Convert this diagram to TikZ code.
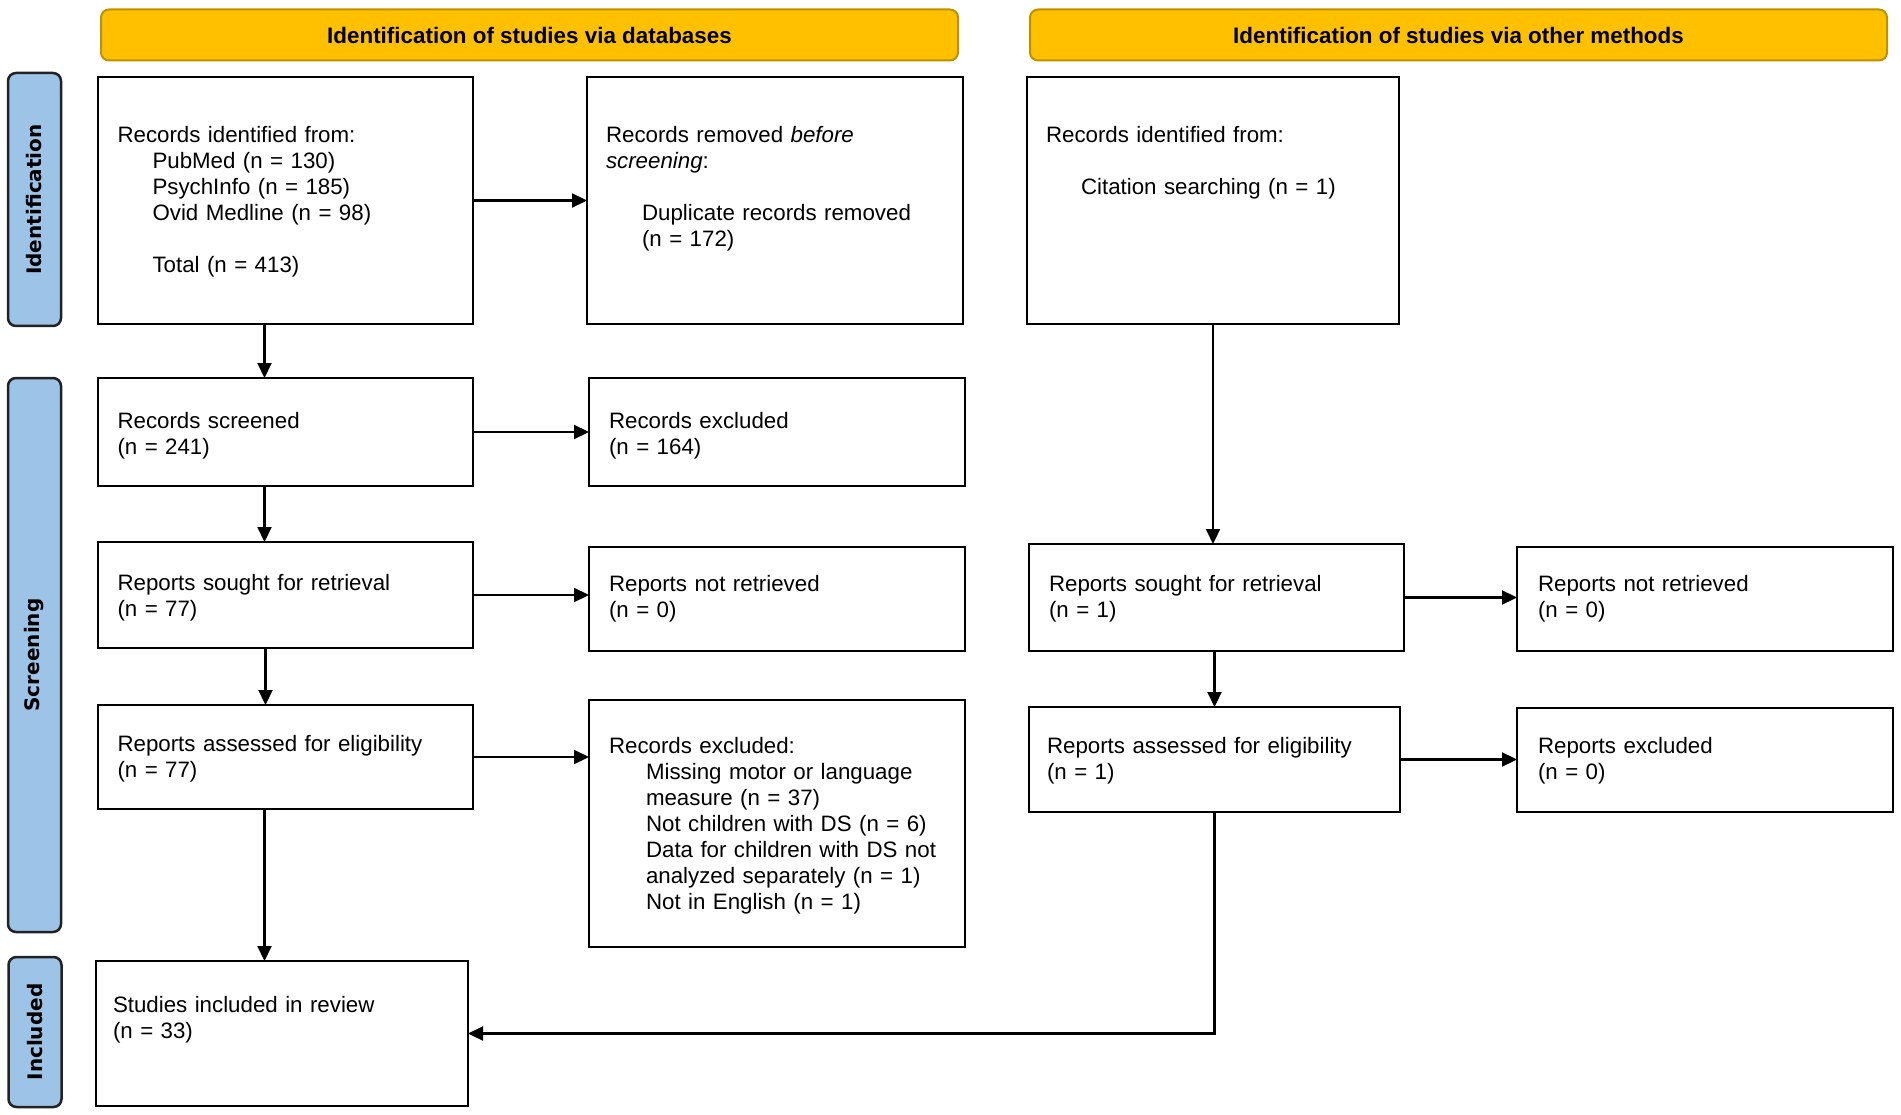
\documentclass[tikz,border=0pt]{standalone}
\usepackage{fontspec}
\setmainfont{Liberation Sans}
\newfontfamily\labfont{DejaVu Sans}
\usetikzlibrary{arrows.meta}
\definecolor{gold}{HTML}{FFC000}
\definecolor{goldedge}{HTML}{BF9000}
\definecolor{sideblue}{HTML}{9DC3E6}
\definecolor{sideedge}{HTML}{222222}
\newcommand\mkbox[5]{\node[box, minimum width={#4-#2}, minimum height={#5-#3}] (#1) at ({(#2+#4)/2},{(#3+#5)/2}) {};}
\begin{document}
\begin{tikzpicture}[x=1pt,y=-1pt,
  box/.style={draw=black, line width=2.5pt, inner sep=0pt, outer sep=0pt, fill=white},
  hdr/.style={draw=goldedge, fill=gold, line width=2pt, rounded corners=8pt, inner sep=0pt,
    font=\fontsize{22.4}{26}\selectfont\bfseries},
  side/.style={draw=sideedge, fill=sideblue, line width=2.5pt, rounded corners=8pt, inner sep=0pt,
    rotate=90, font=\labfont\fontsize{20}{22}\selectfont\bfseries},
  txt/.style={anchor=base west, inner sep=0pt, outer sep=0pt, text width=420pt, align=left,
    font=\fontsize{22.3}{26}\selectfont},
  arr/.style={line width=2.2pt, -{Triangle[length=15pt,width=14pt]}}]
\useasboundingbox (0,0) rectangle (1901,1115);
% headers
\node[hdr, minimum width=857, minimum height=51] (h1) at (529.5,35) {Identification of studies via databases};
\node[hdr, minimum width=857, minimum height=51] (h2) at (1458.5,35) {Identification of studies via other methods};
% side labels
\node[side, minimum width=253, minimum height=53] (s1) at (34.5,199.5) {Identification};
\node[side, minimum width=554, minimum height=53] (s2) at (34.5,655) {Screening};
\node[side, minimum width=150, minimum height=53] (s3) at (35,1032) {Included};
% boxes
\mkbox{A}{98}{77}{473}{324}
\mkbox{R}{587}{77}{963}{324}
\mkbox{B}{98}{378}{473}{486}
\mkbox{X}{589}{378}{965}{486}
\mkbox{C}{98}{542}{473}{648}
\mkbox{N}{589}{547}{965}{651}
\mkbox{D}{98}{705}{473}{809}
\mkbox{Y}{589}{700}{965}{947}
\mkbox{E}{96}{961}{468}{1106}
\mkbox{O}{1027}{77}{1399}{324}
\mkbox{P}{1029}{544}{1404}{651}
\mkbox{Q}{1517}{547}{1893}{651}
\mkbox{S}{1029}{707}{1400}{812}
\mkbox{T}{1517}{708}{1893}{812}
% texts
\node[txt] (tA) at (117.5,143) {Records identified from:\\
\hspace*{35pt}PubMed (n = 130)\\
\hspace*{35pt}PsychInfo (n = 185)\\
\hspace*{35pt}Ovid Medline (n = 98)\\[26pt]
\hspace*{35pt}Total (n = 413)};
\node[txt] (tR) at (606,143) {Records removed \textit{before}\\
\textit{screening}:\\[26pt]
\hspace*{36pt}Duplicate records removed\\
\hspace*{36pt}(n = 172)};
\node[txt] (tO) at (1046,143) {Records identified from:\\[26pt]
\hspace*{35pt}Citation searching (n = 1)};
\node[txt] (tB) at (117.5,428) {Records screened\\(n = 241)};
\node[txt] (tX) at (609,428) {Records excluded\\(n = 164)};
\node[txt] (tC) at (117.5,590) {Reports sought for retrieval\\(n = 77)};
\node[txt] (tN) at (609,591) {Reports not retrieved\\(n = 0)};
\node[txt] (tD) at (117.5,751) {Reports assessed for eligibility\\(n = 77)};
\node[txt] (tY) at (609,753) {Records excluded:\\
\hspace*{37pt}Missing motor or language\\
\hspace*{37pt}measure (n = 37)\\
\hspace*{37pt}Not children with DS (n = 6)\\
\hspace*{37pt}Data for children with DS not\\
\hspace*{37pt}analyzed separately (n = 1)\\
\hspace*{37pt}Not in English (n = 1)};
\node[txt] (tE) at (113,1012) {Studies included in review\\(n = 33)};
\node[txt] (tP) at (1049,591) {Reports sought for retrieval\\(n = 1)};
\node[txt] (tQ) at (1538,591) {Reports not retrieved\\(n = 0)};
\node[txt] (tS) at (1047,753) {Reports assessed for eligibility\\(n = 1)};
\node[txt] (tT) at (1538,753) {Reports excluded\\(n = 0)};
% connectors
\draw[arr] (A.east) -- (R.west);
\draw[arr] (B.east) -- (X.west);
\draw[arr] (C.east) -- (C.east -| N.west);
\draw[arr] (D.east) -- (D.east -| Y.west);
\draw[arr] ([xshift=-21pt]A.south) -- ([xshift=-21pt]A.south |- B.north);
\draw[arr] ([xshift=-21pt]B.south) -- ([xshift=-21pt]B.south |- C.north);
\draw[arr] ([xshift=-20pt]C.south) -- ([xshift=-20pt]C.south |- D.north);
\draw[arr] ([xshift=-21pt]D.south) -- ([xshift=-21pt]D.south |- E.north);
\draw[arr] (O.south) -- (O.south |- P.north);
\draw[arr] (P.east) -- (P.east -| Q.west);
\draw[arr] (P.south -| S.north) -- (S.north);
\draw[arr] (S.east) -- (S.east -| T.west);
\draw[arr] (S.south) |- (E.east);
\end{tikzpicture}
\end{document}
